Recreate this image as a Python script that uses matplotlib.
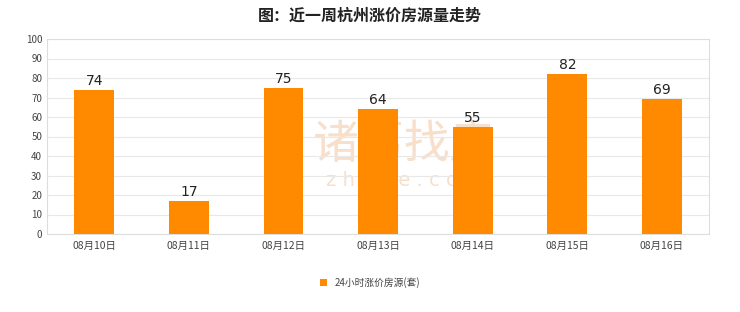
import matplotlib.pyplot as plt
from matplotlib.patches import Patch

plt.rcParams['font.family'] = ['Noto Sans CJK SC', 'DejaVu Sans']

dates = ["08月10日", "08月11日", "08月12日", "08月13日", "08月14日", "08月15日", "08月16日"]
counts = [74, 17, 75, 64, 55, 82, 69]
yticks = list(range(0, 101, 10))

fig = plt.figure(figsize=(7.4, 3.12), dpi=100)
ax = fig.add_axes([0.0635, 0.25, 0.895, 0.625])

x = range(len(dates))
bars = ax.bar(x, counts, width=0.42, color="#ff8a00", zorder=3)
for xi, v in zip(x, counts):
    ax.text(xi, v + 1, str(v), ha="center", va="bottom", fontsize=10, color="#222222",
            family="DejaVu Sans", zorder=4)

ax.set_xlim(-0.5, len(dates) - 0.5)
ax.set_ylim(0, 100)
ax.set_yticks(yticks)
ax.set_xticks(list(x))
ax.set_xticklabels(dates)
ax.tick_params(axis="both", length=0, labelsize=7, colors="#444444")
ax.tick_params(axis="x", pad=5, labelsize=7.5)
ax.grid(axis="y", color="#e8e8e8", linewidth=0.8, zorder=0)
for s in ax.spines.values():
    s.set_color("#dddddd")
    s.set_linewidth(0.8)

# watermark, behind the bars
ax.text(0.547, 0.535, "诸葛找房", fontsize=33, color="#f7dfca", ha="center", va="center",
        transform=fig.transFigure, zorder=1)
ax.text(0.547, 0.42, "z h u g e . c o m", fontsize=14, color="#f7dfca", ha="center", va="center",
        family="DejaVu Sans", transform=fig.transFigure, zorder=1)

fig.suptitle("图：近一周杭州涨价房源量走势", y=0.975, fontsize=11.5, fontweight="bold", color="#222222")

handle = Patch(facecolor="#ff8a00", edgecolor="none")
fig.legend([handle], ["24小时涨价房源(套)"], loc="center", bbox_to_anchor=(0.5, 0.095),
           frameon=False, fontsize=7, handlelength=0.7, handleheight=0.7, labelcolor="#444444")

fig.savefig("out.png", dpi=100)
